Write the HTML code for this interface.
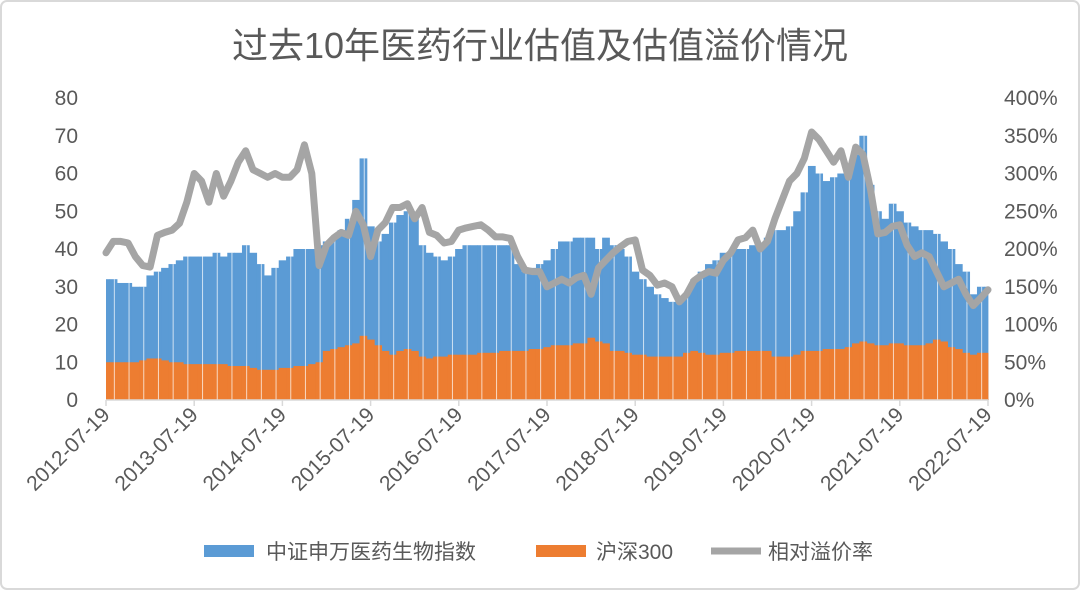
<!DOCTYPE html>
<html><head><meta charset="utf-8"><style>
html,body{margin:0;padding:0;background:#fff}
svg{display:block}
text{font-family:"Liberation Sans","Noto Sans CJK SC",sans-serif;fill:#595959}
</style></head><body>
<svg id="chart" width="1080" height="590" viewBox="0 0 1080 590" xmlns="http://www.w3.org/2000/svg">
<rect x="1" y="1" width="1078" height="588" rx="6" fill="#fff" stroke="#d9d9d9" stroke-width="2"/>
<text x="540" y="58" text-anchor="middle" font-size="36">过去10年医药行业估值及估值溢价情况</text>
<g id="plot"></g>
<g id="axes"></g>
<g>
<rect x="204" y="545" width="50" height="12" fill="#5b9bd5"/>
<text x="266" y="559" font-size="21">中证申万医药生物指数</text>
<rect x="536" y="545" width="50" height="12" fill="#ed7d31"/>
<text x="596" y="559" font-size="21">沪深300</text>
<line x1="711" y1="551" x2="761" y2="551" stroke="#a5a5a5" stroke-width="7"/>
<text x="768" y="559" font-size="21">相对溢价率</text>
</g>
</svg>
<script>
const xLabels = ["2012-07-19","2013-07-19","2014-07-19","2015-07-19","2016-07-19","2017-07-19","2018-07-19","2019-07-19","2020-07-19","2021-07-19","2022-07-19"];
const leftTicks = [0,10,20,30,40,50,60,70,80];
const rightTicks = ["0%","50%","100%","150%","200%","250%","300%","350%","400%"];
const pharmaPE = [32,32,31,31,30,30,33,34,35,36,37,38,38,
38,38,39,38,39,39,41,39,36,33,35,37,
38,40,40,40,41,42,43,45,48,53,64,46,
42,44,47,49,50,48,41,39,38,37,38,40,
41,41,41,41,41,41,41,36,34,35,36,37,
40,42,42,43,43,43,40,43,41,40,38,34,
32,30,28,27,26,26,28,32,34,36,37,39,
39,40,40,41,41,43,45,45,46,50,55,62,
60,58,59,60,62,65,70,57,50,48,52,50,
47,46,45,45,44,42,40,36,34,28,30,30];
const hs300PE = [10,10,10,10,10,10.5,11,11,10.5,10,10,9.5,9.5,
9.5,9.5,9.5,9.5,9,9,9,8.5,8,8,8,8.5,
8.5,9,9,9.5,10,13,13.5,14,14.5,15,17,16,
14.5,13,12,13,13.5,13,11.5,11,11.5,11.5,12,12,
12,12,12.5,12.5,12.5,13,13,13,13,13.5,13.5,14,
14.5,14.5,14.5,15,15,16.5,15.5,15,13,13,12.5,12,
12,11.5,11.5,11.5,11.5,11.5,12.5,13,12.5,12,12,12.5,
12.5,13,13,13,13,13,11.5,11.5,11.5,12,13,13,
13,13.5,13.5,13.5,14,15,15.5,15,14.5,14.5,15,15,
14.5,14.5,14.5,15,16,15.5,14,13.5,12.5,12,12.5,12.5];
const premiumPct = [195,210,210,208,190,178,176,218,222,225,234,262,300,
290,262,300,270,290,315,330,305,300,295,300,295,
295,305,338,300,178,205,215,222,218,250,232,190,
225,235,255,255,260,240,255,222,218,208,210,225,
228,230,232,225,216,216,214,190,172,170,170,150,
155,160,155,162,165,140,175,185,195,203,210,212,
172,165,152,155,150,130,140,158,165,170,168,185,
195,212,215,225,200,210,240,265,290,300,320,355,
345,330,315,330,295,335,325,280,220,222,230,232,
205,190,195,190,170,150,155,160,140,125,135,146];

const NS="http://www.w3.org/2000/svg";
const X0=106,X1=988,Y0=400,Y1=98;
const n=pharmaPE.length;
const xScale=i=>X0+(X1-X0)*i/(n-1);
const yL=v=>Y0-(Y0-Y1)*v/80;
const yR=p=>Y0-(Y0-Y1)*p/400;
const plot=document.getElementById('plot');
const axes=document.getElementById('axes');
const step=(X1-X0)/(n-1);
function mk(tag,attrs,parent){const e=document.createElementNS(NS,tag);for(const k in attrs)e.setAttribute(k,attrs[k]);parent.appendChild(e);return e;}

pharmaPE.forEach((v,i)=>{
  const x=Math.max(X0,xScale(i)-step/2), x2=Math.min(X1,xScale(i)+step/2);
  const r=mk('rect',{x:x,y:yL(v),width:x2-x+0.4,height:Y0-yL(v),fill:'#5b9bd5'},plot);
  
  
});
hs300PE.forEach((v,i)=>{
  const x=Math.max(X0,xScale(i)-step/2), x2=Math.min(X1,xScale(i)+step/2);
  const r=mk('rect',{x:x,y:yL(v),width:x2-x+0.4,height:Y0-yL(v),fill:'#ed7d31'},plot);
  
  
});
for(let i=1;i<n-1;i+=2){
  const s=mk('line',{x1:xScale(i)+1,y1:Y0,x2:xScale(i)+1,y2:yL(pharmaPE[i]),stroke:'#fff','stroke-width':1,'stroke-opacity':0.7},plot);
  
  
}
const d=premiumPct.map((p,i)=>(i?'L':'M')+xScale(i).toFixed(1)+','+yR(p).toFixed(1)).join(' ');
const line=mk('path',{d:d,fill:'none',stroke:'#a5a5a5','stroke-width':7,'stroke-linejoin':'round','stroke-linecap':'round'},plot);



const ax=mk('line',{x1:X0,y1:Y0,x2:X1,y2:Y0,stroke:'#d9d9d9','stroke-width':1.5},axes);


xLabels.forEach((lab,i)=>{
  const x=X0+(X1-X0)*i/(xLabels.length-1);
  const t=mk('line',{x1:x,y1:Y0,x2:x,y2:Y0+6,stroke:'#d9d9d9','stroke-width':1.5},axes);
  
  
  const tx=mk('text',{x:x+5,y:Y0+16,'font-size':21,'text-anchor':'end',transform:`rotate(-45 ${x+5} ${Y0+16})`},axes);
  tx.textContent=lab;
  
  
});
leftTicks.forEach(v=>{
  const t=mk('text',{x:78,y:yL(v)+7,'font-size':21,'text-anchor':'end'},axes);
  t.textContent=v;
  
  
});
rightTicks.forEach((lab,i)=>{
  const t=mk('text',{x:1004,y:yR(i*50)+7,'font-size':21,'text-anchor':'start'},axes);
  t.textContent=lab;
  
  
});
</script>
</body></html>
